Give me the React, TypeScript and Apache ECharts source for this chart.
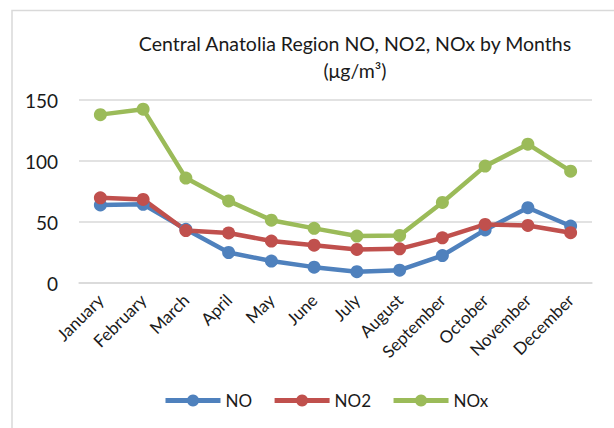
import React, { useEffect, useRef } from "react";
import * as echarts from "echarts";

const months = [
  "January", "February", "March", "April", "May", "June",
  "July", "August", "September", "October", "November", "December",
];
const noValues = [64, 64.5, 44, 25, 18, 13, 9.3, 10.5, 22.5, 43.5, 61.7, 46.7];
const no2Values = [69.8, 68.5, 43, 41, 34.4, 31, 27.5, 28, 37, 48, 47.2, 41.2];
const noxValues = [138, 142.5, 86, 67.3, 51.5, 44.8, 38.5, 39, 66, 95.8, 113.8, 91.7];
const yTicks = { min: 0, max: 150, interval: 50 };

const FONT = "Lato";

export default function App() {
  const ref = useRef<HTMLDivElement>(null);

  useEffect(() => {
    if (!ref.current) return;
    const chart = echarts.init(ref.current, undefined, { renderer: "svg" });
    const lineSeries = (name: string, data: number[], color: string) => ({
      name,
      type: "line",
      data,
      symbol: "circle",
      symbolSize: 13,
      itemStyle: { color },
      lineStyle: { color, width: 4.5 },
    });
    chart.setOption({
      animation: false,
      backgroundColor: "#ffffff",
      textStyle: { fontFamily: FONT },
      graphic: [
        {
          type: "rect",
          shape: { x: 12, y: 10.5, width: 700, height: 500 },
          style: { fill: "none", stroke: "#d9d9d9", lineWidth: 1.5 },
          silent: true,
        },
        {
          type: "text",
          x: 355,
          y: 43,
          style: {
            text: "Central Anatolia Region NO, NO2, NOx by Months",
            fontFamily: FONT,
            fontSize: 19.5,
            fill: "#1a1a1a",
            textAlign: "center",
            textVerticalAlign: "middle",
          },
        },
        {
          type: "text",
          x: 355,
          y: 70,
          style: {
            text: "(μg/m³)",
            fontFamily: FONT,
            fontSize: 19.5,
            fill: "#1a1a1a",
            textAlign: "center",
            textVerticalAlign: "middle",
          },
        },
      ],
      grid: { left: 79, right: 22, top: 100, bottom: 145, containLabel: false },
      xAxis: {
        type: "category",
        data: months,
        boundaryGap: true,
        axisLine: { show: true, lineStyle: { color: "#d9d9d9", width: 1.5 } },
        axisTick: { show: false },
        axisLabel: {
          rotate: 45,
          interval: 0,
          fontSize: 17,
          fontFamily: FONT,
          color: "#1a1a1a",
          margin: 14,
        },
      },
      yAxis: {
        type: "value",
        min: yTicks.min,
        max: yTicks.max,
        interval: yTicks.interval,
        axisLine: { show: false },
        axisTick: { show: false },
        splitLine: { lineStyle: { color: "#d9d9d9", width: 1.5 } },
        axisLabel: {
          fontSize: 19,
          fontFamily: FONT,
          color: "#1a1a1a",
          margin: 21,
        },
      },
      legend: {
        left: 158,
        top: 387,
        itemWidth: 55,
        itemHeight: 15,
        itemGap: 20,
        lineStyle: { width: 5 },
        textStyle: { fontSize: 17, fontFamily: FONT, color: "#1a1a1a", padding: [0, 0, 0, 0] },
        data: ["NO", "NO2", "NOx"],
      },
      series: [
        lineSeries("NO", noValues, "#4f81bd"),
        lineSeries("NO2", no2Values, "#c0504d"),
        lineSeries("NOx", noxValues, "#9bbb59"),
      ],
    });
    return () => chart.dispose();
  }, []);

  return (
    <div
      ref={ref}
      style={{ position: "fixed", left: 0, top: 0, width: 614, height: 428 }}
    />
  );
}
